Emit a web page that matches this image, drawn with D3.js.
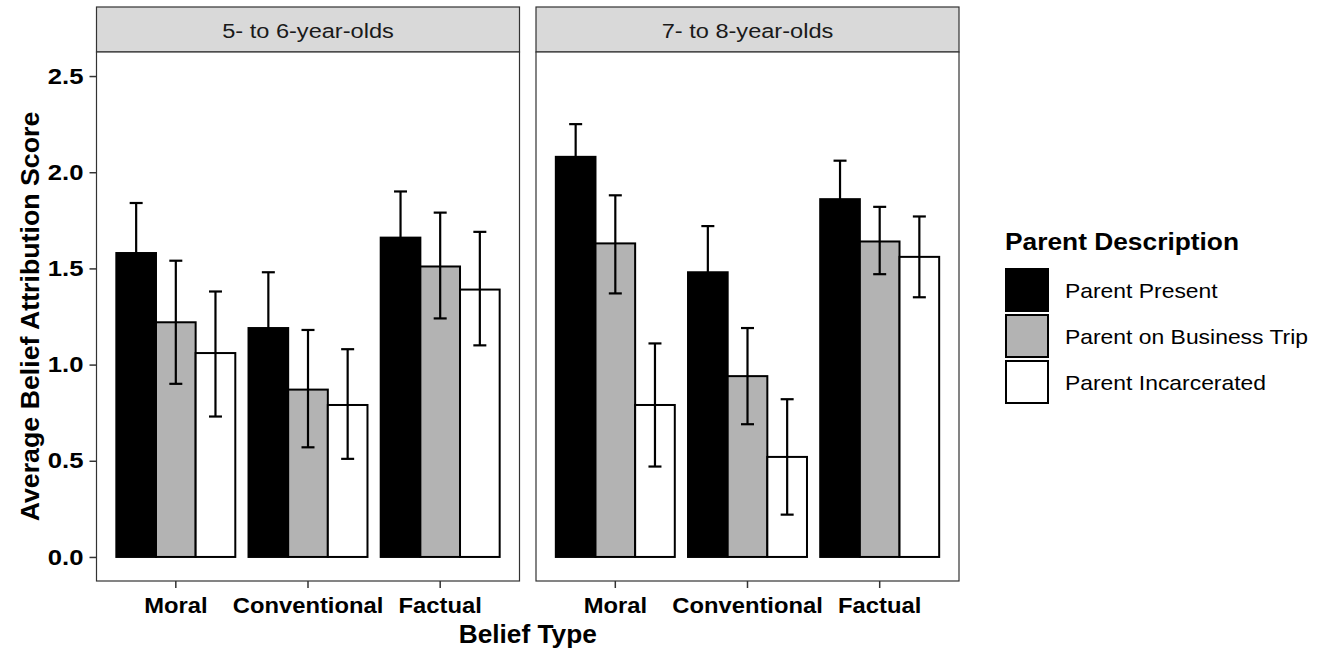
<!DOCTYPE html>
<html>
<head>
<meta charset="utf-8">
<script src="https://cdn.jsdelivr.net/npm/d3@7"></script>
<style>
  html, body { margin: 0; padding: 0; background: #ffffff; }
  svg { display: block; font-family: "Liberation Sans", Arial, Helvetica, sans-serif; }
</style>
</head>
<body>
<svg id="chart" width="1330" height="651"></svg>
<script>
// ---------------- data ----------------
const panels = ["5- to 6-year-olds", "7- to 8-year-olds"];
const beliefTypes = ["Moral", "Conventional", "Factual"];
const conditions = ["Parent Present", "Parent on Business Trip", "Parent Incarcerated"];
const conditionFills = ["#000000", "#b3b3b3", "#ffffff"];

// mean scores, rows = belief type, columns = condition
const means5to6 = [[1.58, 1.22, 1.06], [1.19, 0.87, 0.79], [1.66, 1.51, 1.39]];
const lower5to6 = [[1.32, 0.90, 0.73], [0.91, 0.57, 0.51], [1.42, 1.24, 1.10]];
const upper5to6 = [[1.84, 1.54, 1.38], [1.48, 1.18, 1.08], [1.90, 1.79, 1.69]];

const means7to8 = [[2.08, 1.63, 0.79], [1.48, 0.94, 0.52], [1.86, 1.64, 1.56]];
const lower7to8 = [[1.92, 1.37, 0.47], [1.24, 0.69, 0.22], [1.67, 1.47, 1.35]];
const upper7to8 = [[2.25, 1.88, 1.11], [1.72, 1.19, 0.82], [2.06, 1.82, 1.77]];

const yTicks = [0, 0.5, 1.0, 1.5, 2.0, 2.5];
const xTitle = "Belief Type";
const yTitle = "Average Belief Attribution Score";
const legendTitle = "Parent Description";

const panelMeans = [means5to6, means7to8];
const panelLower = [lower5to6, lower7to8];
const panelUpper = [upper5to6, upper7to8];

// ---------------- layout ----------------
const svg = d3.select("#chart");
const panelX = [[96.5, 519.5], [536, 959]];
const stripTop = 7, panelTop = 52, panelBottom = 581;

const y = d3.scaleLinear().domain([-0.125, 2.625]).range([panelBottom, panelTop]);
const grid = "#333333";

function stretch(f) {
  return sel => sel.each(function () {
    const len = this.getComputedTextLength();
    d3.select(this).attr("textLength", len * f).attr("lengthAdjust", "spacingAndGlyphs");
  });
}

panels.forEach((pname, p) => {
  const [x0, x1] = panelX[p];
  const x = d3.scaleBand().domain(beliefTypes).range([x0, x1]).paddingInner(0.1).paddingOuter(0.15);
  const xc = d3.scaleBand().domain(conditions).range([0, x.bandwidth()]).padding(0);

  const g = svg.append("g");

  // strip
  g.append("rect").attr("x", x0).attr("y", stripTop).attr("width", x1 - x0).attr("height", panelTop - stripTop)
    .attr("fill", "#d9d9d9").attr("stroke", grid).attr("stroke-width", 1.2);
  g.append("text").attr("x", (x0 + x1) / 2).attr("y", (stripTop + panelTop) / 2 + 1)
    .attr("text-anchor", "middle").attr("dominant-baseline", "central")
    .attr("font-size", 20.5).attr("fill", "#1a1a1a").text(pname).call(stretch(1.15));

  // panel background
  g.append("rect").attr("x", x0).attr("y", panelTop).attr("width", x1 - x0).attr("height", panelBottom - panelTop)
    .attr("fill", "#ffffff");

  // bars
  const rows = [];
  beliefTypes.forEach((bt, i) => conditions.forEach((c, j) => {
    rows.push({ bt, c, j, m: panelMeans[p][i][j], lo: panelLower[p][i][j], hi: panelUpper[p][i][j] });
  }));

  g.selectAll("rect.bar").data(rows).join("rect").attr("class", "bar")
    .attr("x", d => x(d.bt) + xc(d.c))
    .attr("y", d => y(d.m))
    .attr("width", xc.bandwidth())
    .attr("height", d => y(0) - y(d.m))
    .attr("fill", d => conditionFills[d.j])
    .attr("stroke", "#000").attr("stroke-width", 2);

  // error bars
  const capW = 13;
  const cx = d => x(d.bt) + xc(d.c) + xc.bandwidth() / 2;
  const eb = g.selectAll("g.eb").data(rows).join("g").attr("class", "eb")
    .attr("stroke", "#000").attr("stroke-width", 2.2);
  eb.append("line").attr("x1", cx).attr("x2", cx)
    .attr("y1", d => y(d.lo)).attr("y2", d => y(d.hi));
  eb.append("line").attr("x1", d => cx(d) - capW / 2).attr("x2", d => cx(d) + capW / 2)
    .attr("y1", d => y(d.hi)).attr("y2", d => y(d.hi));
  eb.append("line").attr("x1", d => cx(d) - capW / 2).attr("x2", d => cx(d) + capW / 2)
    .attr("y1", d => y(d.lo)).attr("y2", d => y(d.lo));

  // panel border
  g.append("rect").attr("x", x0).attr("y", panelTop).attr("width", x1 - x0).attr("height", panelBottom - panelTop)
    .attr("fill", "none").attr("stroke", grid).attr("stroke-width", 1.2);

  // x axis
  const xa = g.append("g").attr("transform", `translate(0,${panelBottom})`)
    .call(d3.axisBottom(x).tickSize(7).tickPadding(9).tickSizeOuter(0));
  xa.select(".domain").remove();
  xa.selectAll(".tick line").attr("stroke", grid).attr("stroke-width", 1.5);
  xa.selectAll(".tick text").attr("font-size", 22).attr("font-weight", "bold").attr("fill", "#000")
    .attr("font-family", "Liberation Sans, Arial, sans-serif").call(stretch(1.08));

  // y axis only on first panel
  if (p === 0) {
    const ya = g.append("g").attr("transform", `translate(${x0},0)`)
      .call(d3.axisLeft(y).tickValues(yTicks).tickFormat(d3.format(".1f")).tickSize(7).tickPadding(6).tickSizeOuter(0));
    ya.select(".domain").remove();
    ya.selectAll(".tick line").attr("stroke", grid).attr("stroke-width", 1.5);
    ya.selectAll(".tick text").attr("font-size", 22.5).attr("font-weight", "bold").attr("fill", "#000")
      .attr("font-family", "Liberation Sans, Arial, sans-serif").call(stretch(1.14));
  }
});

// axis titles
svg.append("text").attr("x", (panelX[0][0] + panelX[1][1]) / 2).attr("y", 643)
  .attr("text-anchor", "middle").attr("font-size", 25).attr("font-weight", "bold").attr("fill", "#000")
  .text(xTitle).call(stretch(1.05));
svg.append("text").attr("transform", `translate(39,${(panelTop + panelBottom) / 2}) rotate(-90)`)
  .attr("text-anchor", "middle").attr("font-size", 25).attr("font-weight", "bold").attr("fill", "#000")
  .text(yTitle).call(stretch(1.07));

// legend
const lg = svg.append("g").attr("transform", "translate(1005,0)");
lg.append("text").attr("x", 0).attr("y", 250).attr("font-size", 23.5).attr("font-weight", "bold").attr("fill", "#000")
  .text(legendTitle).call(stretch(1.12));
const keySize = 44, keyStep = 46, keyTop = 268;
const items = lg.selectAll("g.item").data(conditions).join("g").attr("class", "item")
  .attr("transform", (d, i) => `translate(0,${keyTop + i * keyStep})`);
items.append("rect").attr("x", 1).attr("y", 1).attr("width", keySize - 2).attr("height", keySize - 2)
  .attr("fill", (d, i) => conditionFills[i]).attr("stroke", "#000").attr("stroke-width", 2);
items.append("text").attr("x", 60).attr("y", keySize / 2).attr("dominant-baseline", "central")
  .attr("font-size", 21).attr("fill", "#000").text(d => d).call(stretch(1.09));
</script>
</body>
</html>
